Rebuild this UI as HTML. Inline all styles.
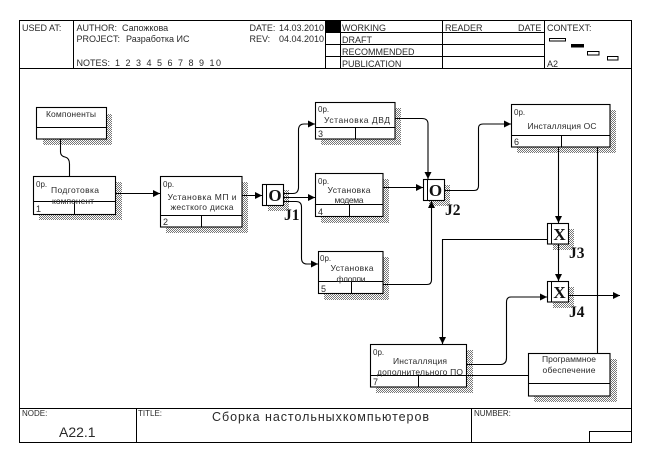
<!DOCTYPE html>
<html><head><meta charset="utf-8"><style>
html,body{margin:0;padding:0;background:#fff;width:647px;height:458px;overflow:hidden}
svg{display:block}
text{font-family:"Liberation Sans",sans-serif;font-size:9px;fill:#2a2a2a}
.t{text-anchor:middle;font-size:8.5px}
.j{font-family:"Liberation Serif",serif;font-weight:bold;font-size:15.5px;fill:#111}
.big{font-family:"Liberation Serif",serif;font-weight:bold;font-size:17px;fill:#111;text-anchor:middle}
.l{fill:none;stroke:#000;stroke-width:1}
.c{fill:none;stroke:#000;stroke-width:1.1}
.b{fill:#fff;stroke:#000;stroke-width:1.1}
.s{fill:url(#h);stroke:none}
</style></head><body>
<svg width="647" height="458" viewBox="0 0 647 458" xmlns="http://www.w3.org/2000/svg">
<defs>
<pattern id="h" width="2" height="2" patternUnits="userSpaceOnUse"><rect width="2" height="2" fill="#fff"/><rect width="1" height="1" fill="#777"/><rect x="1" y="1" width="1" height="1" fill="#777"/></pattern>
<marker id="a" viewBox="0 0 7 7" refX="7" refY="3.5" markerWidth="7" markerHeight="7" orient="auto" markerUnits="userSpaceOnUse"><path d="M0 0L7 3.5L0 7Z" fill="#000"/></marker>
</defs>
<rect x="0" y="0" width="647" height="458" fill="#fff"/>

<!-- frame -->
<rect x="19.5" y="20.5" width="612" height="422" fill="none" stroke="#000"/>
<path class="l" d="M19.5 68.5H631.5M19.5 408.5H631.5M73.5 20.5V68.5M325.5 20.5V68.5M340.5 20.5V68.5M442.5 20.5V68.5M544.5 20.5V68.5M326 32.5H544.5M326 44.5H544.5M326 56.5H544.5M136.5 408.5V442.5M471.5 408.5V442.5M589.5 442.5V431.5H631.5"/>
<rect x="326" y="21" width="14" height="11.5" fill="#000"/>
<text x="22" y="31">USED AT:</text>
<text x="76.5" y="31">AUTHOR:  </text><text x="122" y="31">Сапожкова</text>
<text x="76.5" y="42">PROJECT:</text><text x="126" y="42">Разработка ИС</text>
<text x="76.5" y="66">NOTES:</text><text x="115" y="66" textLength="106">1  2  3  4  5  6  7  8  9  10</text>
<text x="249.5" y="31">DATE:</text><text x="279" y="31">14.03.2010</text>
<text x="249.5" y="42">REV:</text><text x="279" y="42">04.04.2010</text>
<text x="342" y="31">WORKING</text><text x="342" y="43">DRAFT</text><text x="342" y="55">RECOMMENDED</text><text x="342" y="67">PUBLICATION</text>
<text x="445" y="31">READER</text><text x="518" y="31">DATE</text><text x="547" y="31">CONTEXT:</text><text x="547" y="67">A2</text>
<rect x="549.5" y="38.5" width="16" height="2.5" fill="#fff" stroke="#000"/>
<rect x="571" y="44" width="13" height="3.5" fill="#000"/>
<rect x="587.5" y="51.5" width="11.5" height="3.5" fill="#fff" stroke="#000"/>
<rect x="607.5" y="56.5" width="10.5" height="3.5" fill="#fff" stroke="#000"/>

<text x="22" y="416" style="font-size:8px">NODE:</text>
<text x="138" y="416" style="font-size:8px">TITLE:</text>
<text x="474" y="416" style="font-size:8px">NUMBER:</text>
<text x="59" y="437" style="font-size:14px">A22.1</text>
<text x="212" y="421" style="font-size:12.5px" textLength="217">Сборка настольныхкомпьютеров</text>

<!-- shadows -->
<rect class="s" x="43" y="114" width="69" height="31"/>
<rect class="s" x="39" y="182" width="83" height="38"/>
<rect class="s" x="166" y="182" width="82" height="51"/>
<rect class="s" x="321" y="108" width="80" height="37"/>
<rect class="s" x="321" y="179" width="68" height="44"/>
<rect class="s" x="324" y="257" width="65" height="43"/>
<rect class="s" x="517" y="110" width="99" height="43"/>
<rect class="s" x="376" y="350" width="97" height="43"/>
<rect class="s" x="534" y="359" width="83" height="43"/>
<rect class="s" x="268" y="190" width="21" height="21"/>
<rect class="s" x="429" y="185" width="21" height="21"/>
<rect class="s" x="553" y="229" width="21" height="21"/>
<rect class="s" x="553" y="287" width="21" height="21"/>

<!-- connectors -->
<path class="c" d="M60.5 139V152Q60.5 156 65 157Q69.5 158 69.5 164V176"/>
<path class="c" d="M116 193.5H160" marker-end="url(#a)"/>
<path class="c" d="M242 195.5H262" marker-end="url(#a)"/>
<path class="c" d="M284 193.5H293Q298 193.5 298.5 188V130Q298.5 124 304 124H315" marker-end="url(#a)"/>
<path class="c" d="M284 197.5H315" marker-end="url(#a)"/>
<path class="c" d="M284 201.5H296Q301.5 201.5 301.5 207V258Q301.5 264 307 264H318" marker-end="url(#a)"/>
<path class="c" d="M395 118.5H422Q428 118.5 428 124V179" marker-end="url(#a)"/>
<path class="c" d="M383 187.5H423" marker-end="url(#a)"/>
<path class="c" d="M383 284.5H427Q431.5 284.5 431.5 280V201" marker-end="url(#a)"/>
<path class="c" d="M445 190.5H474Q478.5 190.5 478.5 186V128Q478.5 124 483 124H511" marker-end="url(#a)"/>
<path class="c" d="M558.5 147V223" marker-end="url(#a)"/>
<path class="c" d="M558.5 244V281" marker-end="url(#a)"/>
<path class="c" d="M597.5 147V353"/>
<path class="c" d="M547 239.5H442.5V344" marker-end="url(#a)"/>
<path class="c" d="M569 295.5H620" marker-end="url(#a)"/>
<path class="c" d="M467 364.5H501Q506.5 364 506.5 358V302Q506.5 297 511 297H547" marker-end="url(#a)"/>
<path class="c" d="M467 375.5H528"/>

<!-- boxes -->
<rect class="b" x="36.5" y="107.5" width="70" height="31.5"/><path class="l" d="M36.5 127.5H106.5"/>
<text class="t" x="71" y="117" textLength="50">Компоненты</text>

<rect class="b" x="33.5" y="176.5" width="82" height="38"/><path class="l" d="M33.5 201.5H115.5M74.5 201.5V214.5"/>
<text x="36" y="187" style="font-size:8px">0p.</text>
<text class="t" x="75" y="193" textLength="48">Подготовка</text>
<text class="t" x="73" y="204" textLength="42">компонент</text>
<text x="36" y="212">1</text>

<rect class="b" x="160.5" y="176.5" width="81.5" height="50.5"/><path class="l" d="M160.5 215.5H242M201.5 215.5V227"/>
<text x="163" y="187" style="font-size:8px">0p.</text>
<text class="t" x="202" y="200" textLength="69">Установка МП и</text>
<text class="t" x="202" y="210" textLength="63">жесткого диска</text>
<text x="163" y="225">2</text>

<rect class="b" x="315.5" y="102.5" width="79.5" height="36.5"/><path class="l" d="M315.5 127.5H395M355.5 127.5V139"/>
<text x="318" y="112" style="font-size:8px">0p.</text>
<text class="t" x="357" y="123" textLength="66">Установка ДВД</text>
<text x="318" y="137">3</text>

<rect class="b" x="315.5" y="173.5" width="67.5" height="43"/><path class="l" d="M315.5 204.5H383M349.5 204.5V216.5"/>
<text x="318" y="184" style="font-size:8px">0p.</text>
<text class="t" x="349" y="193" textLength="43">Установка</text>
<text class="t" x="349" y="203" textLength="29">модема</text>
<text x="318" y="215">4</text>

<rect class="b" x="318.5" y="251.5" width="64.5" height="42"/><path class="l" d="M318.5 281.5H383M351.5 281.5V293.5"/>
<text x="320" y="261" style="font-size:8px">0p.</text>
<text class="t" x="352" y="271" textLength="43">Установка</text>
<text class="t" x="351" y="282" textLength="29">флоппи</text>
<text x="321" y="292">5</text>

<rect class="b" x="511.5" y="104.5" width="98.5" height="42.5"/><path class="l" d="M511.5 135.5H610M561.5 135.5V147"/>
<text x="514" y="115" style="font-size:8px">0p.</text>
<text class="t" x="562" y="129" textLength="69">Инсталляция ОС</text>
<text x="514" y="145">6</text>

<rect class="b" x="370.5" y="344.5" width="96" height="42.5"/><path class="l" d="M370.5 375.5H467M418.5 375.5V387"/>
<text x="373" y="355" style="font-size:8px">0p.</text>
<text class="t" x="420" y="364" textLength="54">Инсталляция</text>
<text class="t" x="420" y="375" textLength="86">дополнительного ПО</text>
<text x="373" y="385">7</text>

<rect class="b" x="528.5" y="353.5" width="81.5" height="42.5"/><path class="l" d="M528.5 383.5H610"/>
<text class="t" x="569" y="362" textLength="54">Программное</text>
<text class="t" x="569" y="373" textLength="53">обеспечение</text>

<!-- junctions -->
<rect class="b" x="262.5" y="184.5" width="21" height="21"/><path class="l" d="M266.5 184.5V205.5"/><text class="big" x="275" y="201">O</text>
<rect class="b" x="423.5" y="179.5" width="21" height="21"/><path class="l" d="M427.5 179.5V200.5"/><text class="big" x="435.5" y="196">O</text>
<rect class="b" x="547.5" y="223.5" width="21" height="20.5"/><path class="l" d="M551.5 223.5V244"/><text class="big" x="559.5" y="240">X</text>
<rect class="b" x="547.5" y="281.5" width="21" height="20.5"/><path class="l" d="M551.5 281.5V302"/><text class="big" x="559.5" y="298">X</text>
<text class="j" x="284" y="220">J1</text>
<text class="j" x="445" y="215">J2</text>
<text class="j" x="569" y="258">J3</text>
<text class="j" x="569" y="317">J4</text>
</svg>
</body></html>
